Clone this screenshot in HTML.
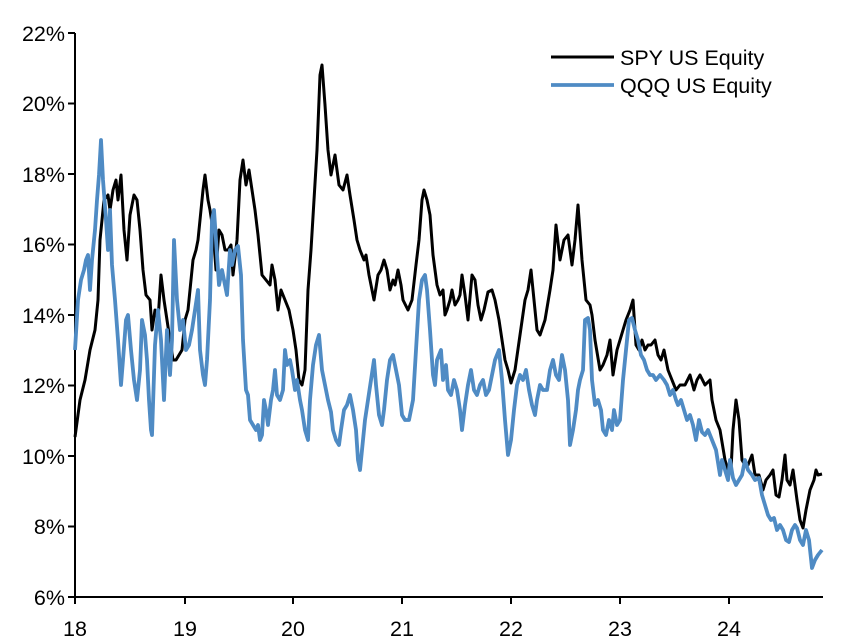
<!DOCTYPE html>
<html><head><meta charset="utf-8"><style>
html,body{margin:0;padding:0;background:#fff;}
svg{display:block;font-family:"Liberation Sans",Arial,sans-serif;}
</style></head><body>
<svg width="852" height="643" viewBox="0 0 852 643">
<g stroke="#000" stroke-width="2" fill="none">
<line x1="75" y1="33" x2="75" y2="598"/>
<line x1="74" y1="597" x2="823" y2="597"/>
<line x1="68" y1="33" x2="75" y2="33"/><line x1="68" y1="103.5" x2="75" y2="103.5"/>
<line x1="68" y1="174" x2="75" y2="174"/><line x1="68" y1="244.5" x2="75" y2="244.5"/>
<line x1="68" y1="315" x2="75" y2="315"/><line x1="68" y1="385.5" x2="75" y2="385.5"/>
<line x1="68" y1="456" x2="75" y2="456"/><line x1="68" y1="526.5" x2="75" y2="526.5"/>
<line x1="68" y1="597" x2="75" y2="597"/>
<line x1="75" y1="597" x2="75" y2="604"/><line x1="185" y1="597" x2="185" y2="604"/>
<line x1="293" y1="597" x2="293" y2="604"/><line x1="402" y1="597" x2="402" y2="604"/>
<line x1="511" y1="597" x2="511" y2="604"/><line x1="620" y1="597" x2="620" y2="604"/>
<line x1="729" y1="597" x2="729" y2="604"/>
</g>
<g font-size="21.5" fill="#000" text-anchor="end">
<text x="65" y="41">22%</text><text x="65" y="111">20%</text><text x="65" y="182">18%</text>
<text x="65" y="252">16%</text><text x="65" y="323">14%</text><text x="65" y="393">12%</text>
<text x="65" y="464">10%</text><text x="65" y="534">8%</text><text x="65" y="605">6%</text>
</g>
<g font-size="21.5" fill="#000" text-anchor="middle">
<text x="75" y="636">18</text><text x="185" y="636">19</text><text x="293" y="636">20</text>
<text x="402" y="636">21</text><text x="511" y="636">22</text><text x="620" y="636">23</text>
<text x="729" y="636">24</text>
</g>
<polyline fill="none" stroke="#000" stroke-width="3" stroke-linejoin="round" points="75,437 80,400 85,380 90,350 95,330 98,300 100,240 104,200 108,195 110,210 113,190 116,180 118,200 121,175 124,230 127,260 130,215 134,195 137,200 140,230 143,270 146,295 150,300 152,330 155,310 158,320 161,275 164,300 167,320 170,340 173,360 176,360 179,355 182,350 185,320 188,310 190,290 193,260 196,250 198,240 200,220 203,190 205,175 208,200 210,210 213,230 216,270 219,230 222,235 225,250 228,250 231,245 233,275 237,240 240,180 243,160 246,185 249,170 252,190 255,210 258,235 262,275 266,280 270,285 272,265 275,280 278,310 281,290 285,300 289,310 293,330 296,350 299,380 302,385 305,370 308,290 311,250 314,200 317,150 320,75 322,65 325,105 328,150 331,175 335,155 339,185 343,190 347,175 350,195 354,220 357,240 360,250 364,260 366,255 369,275 372,290 374,300 378,275 381,270 384,260 387,270 390,290 393,280 395,285 398,270 401,285 403,300 408,310 412,300 416,265 419,240 422,200 424,190 427,200 430,215 433,255 437,285 440,295 443,290 445,315 447,310 450,300 452,290 455,305 458,300 460,295 462,275 465,295 468,320 472,275 475,280 478,305 481,320 484,310 488,292 492,290 495,300 499,320 502,340 505,360 508,370 511,383 515,370 520,335 525,300 528,290 531,270 534,300 537,330 540,335 545,320 550,290 553,270 556,225 560,260 564,240 568,235 570,250 572,265 575,240 578,205 582,260 586,300 590,305 592,315 595,340 600,370 603,365 607,355 610,340 613,375 617,350 620,340 623,330 626,320 630,310 633,300 636,345 639,350 642,340 645,350 648,345 651,345 655,340 658,355 661,360 664,350 668,370 672,380 676,390 680,385 685,385 690,375 694,390 697,380 700,375 705,385 710,380 712,400 716,420 720,430 725,460 728,470 731,470 733,430 736,400 739,420 742,460 745,465 748,465 752,455 755,475 759,475 763,490 766,480 770,475 773,470 776,495 779,497 782,480 785,455 787,480 790,485 793,470 797,500 800,520 803,528 806,510 810,490 814,480 816,470 818,475 822,474"/>
<polyline fill="none" stroke="#4f8bc4" stroke-width="3.8" stroke-linejoin="round" points="75,350 78,300 81,280 84,270 86,260 88,255 90,290 92,260 95,230 97,200 99,175 101,140 103,180 106,220 108,250 110,210 112,265 115,300 118,340 121,385 123,360 126,320 128,315 131,350 134,380 137,400 140,370 142,320 145,335 147,360 149,400 151,430 152,435 155,345 158,310 161,340 164,400 167,330 170,375 172,340 174,240 177,300 180,330 183,320 186,350 189,345 192,330 195,310 198,290 200,350 203,375 205,385 207,360 210,300 212,220 214,210 216,240 219,285 222,270 224,280 227,295 230,250 232,265 235,250 238,246 241,275 243,340 246,390 248,395 250,420 253,425 256,430 258,425 260,440 262,435 264,400 266,410 268,425 271,400 273,390 275,370 277,395 280,400 283,390 285,350 287,365 290,360 292,370 295,390 297,380 300,400 302,410 305,430 308,440 310,400 313,365 316,345 319,335 322,370 325,385 328,400 331,412 333,430 336,440 339,445 341,430 344,410 347,405 350,395 353,410 356,430 358,460 360,470 362,450 365,420 368,400 371,380 374,360 376,385 379,415 382,425 384,410 387,380 390,360 393,355 396,370 399,385 402,415 405,420 409,420 413,400 416,350 419,300 422,280 425,275 427,290 430,330 433,375 435,385 437,360 441,350 443,380 446,365 448,390 451,395 454,380 457,390 460,410 462,430 465,405 468,385 471,370 474,390 477,395 480,385 483,380 486,395 489,390 492,375 495,360 499,350 502,380 505,420 508,455 511,440 514,410 517,385 520,375 523,380 526,370 529,390 532,405 535,415 537,400 540,385 543,390 547,390 550,370 553,360 556,375 559,380 562,355 565,370 568,400 570,445 573,430 576,410 578,390 580,380 583,370 585,320 588,318 590,330 592,380 595,405 598,400 601,410 603,430 606,435 609,420 612,430 614,410 617,425 620,420 623,380 626,350 629,320 632,318 635,330 638,340 641,355 644,360 647,370 650,375 653,375 656,380 660,375 664,380 667,385 670,395 673,390 676,400 678,405 681,400 684,410 687,420 690,415 693,425 696,440 699,420 702,432 705,435 708,430 712,440 716,450 720,475 722,460 725,470 728,480 730,460 733,478 736,485 739,480 742,475 745,460 748,470 752,475 755,480 759,478 762,495 765,505 768,515 771,520 774,518 777,530 780,525 783,530 786,540 789,542 792,530 795,525 797,528 800,540 803,545 806,530 809,540 812,568 815,560 818,555 822,550"/>
<line x1="551" y1="57" x2="614" y2="57" stroke="#000" stroke-width="3"/>
<line x1="551" y1="85" x2="614" y2="85" stroke="#4f8bc4" stroke-width="3.8"/>
<text x="620" y="65" font-size="21.5">SPY US Equity</text>
<text x="620" y="93" font-size="21.5">QQQ US Equity</text>
</svg>
</body></html>
